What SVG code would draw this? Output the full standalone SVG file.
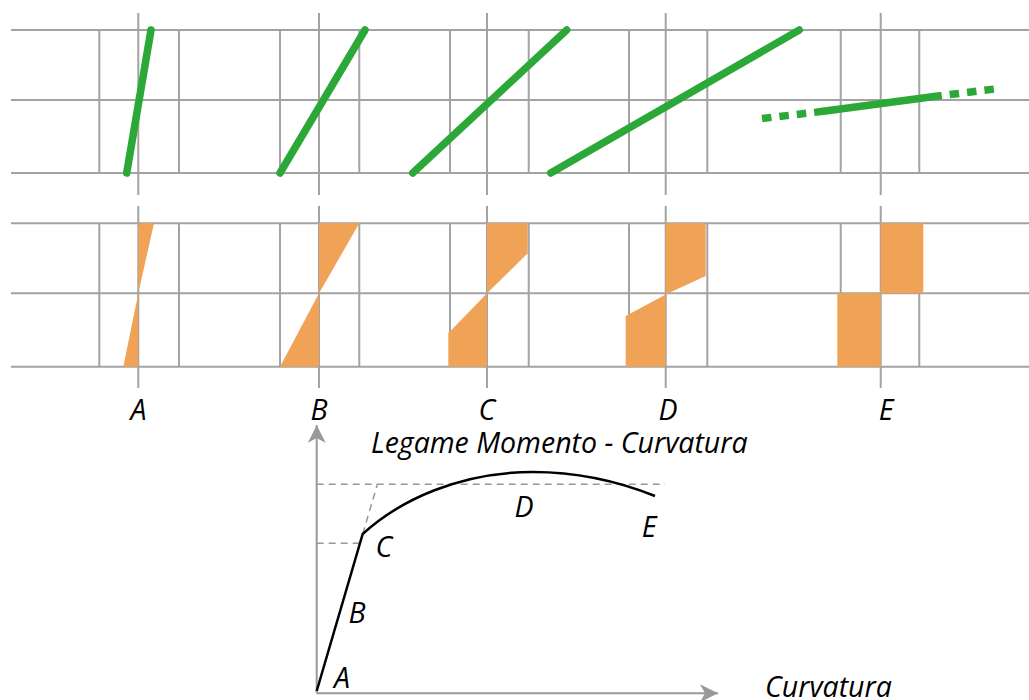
<svg xmlns="http://www.w3.org/2000/svg" width="1029" height="700" viewBox="0 0 1029 700">
<style>
.g{stroke:#a3a3a3;stroke-width:2;fill:none}
.gr{stroke:#2ca838;stroke-width:7.5;stroke-linecap:round;fill:none}
.grd{stroke:#2ca838;stroke-width:7.5;fill:none;stroke-dasharray:9.5 8}
.o{fill:#f0a357}
.t{font-family:"Open Sans","Noto Sans",sans-serif;font-style:italic;font-size:28.5px;fill:#000}
.ax{stroke:#999;stroke-width:2;fill:none}
.ds{stroke:#999;stroke-width:1.5;fill:none;stroke-dasharray:7 5}
</style>
<defs>
<marker id="ah" markerWidth="20" markerHeight="20" refX="18" refY="9" orient="auto" markerUnits="userSpaceOnUse">
<path d="M0,0 L18,9 L0,18 L5,9 Z" fill="#999"/>
</marker>
</defs>
<g id="grid-top">
<line class="g" x1="11" y1="30" x2="1029" y2="30"/>
<line class="g" x1="11" y1="100" x2="1029" y2="100"/>
<line class="g" x1="11" y1="173" x2="1029" y2="173"/>
<line class="g" x1="99.3" y1="30" x2="99.3" y2="173"/>
<line class="g" x1="179" y1="30" x2="179" y2="173"/>
<line class="g" x1="280" y1="30" x2="280" y2="173"/>
<line class="g" x1="359.3" y1="30" x2="359.3" y2="173"/>
<line class="g" x1="450" y1="30" x2="450" y2="173"/>
<line class="g" x1="528.7" y1="30" x2="528.7" y2="173"/>
<line class="g" x1="629" y1="30" x2="629" y2="173"/>
<line class="g" x1="707.3" y1="30" x2="707.3" y2="173"/>
<line class="g" x1="840.7" y1="30" x2="840.7" y2="173"/>
<line class="g" x1="919.3" y1="30" x2="919.3" y2="173"/>
<line class="g" x1="138.3" y1="13" x2="138.3" y2="195"/>
<line class="g" x1="319" y1="13" x2="319" y2="195"/>
<line class="g" x1="487" y1="13" x2="487" y2="195"/>
<line class="g" x1="665.7" y1="13" x2="665.7" y2="195"/>
<line class="g" x1="880.7" y1="13" x2="880.7" y2="195"/>
</g>
<g id="grid-bottom">
<line class="g" x1="11" y1="223.3" x2="1029" y2="223.3"/>
<line class="g" x1="11" y1="293.3" x2="1029" y2="293.3"/>
<line class="g" x1="11" y1="366.7" x2="1029" y2="366.7"/>
<line class="g" x1="99.3" y1="223.3" x2="99.3" y2="366.7"/>
<line class="g" x1="179" y1="223.3" x2="179" y2="366.7"/>
<line class="g" x1="280" y1="223.3" x2="280" y2="366.7"/>
<line class="g" x1="359.3" y1="223.3" x2="359.3" y2="366.7"/>
<line class="g" x1="450" y1="223.3" x2="450" y2="366.7"/>
<line class="g" x1="528.7" y1="223.3" x2="528.7" y2="366.7"/>
<line class="g" x1="629" y1="223.3" x2="629" y2="366.7"/>
<line class="g" x1="707.3" y1="223.3" x2="707.3" y2="366.7"/>
<line class="g" x1="840.7" y1="223.3" x2="840.7" y2="366.7"/>
<line class="g" x1="919.3" y1="223.3" x2="919.3" y2="366.7"/>
<line class="g" x1="138.3" y1="206" x2="138.3" y2="388"/>
<line class="g" x1="319" y1="206" x2="319" y2="388"/>
<line class="g" x1="487" y1="206" x2="487" y2="388"/>
<line class="g" x1="665.7" y1="206" x2="665.7" y2="388"/>
<line class="g" x1="880.7" y1="206" x2="880.7" y2="388"/>
</g>
<g id="strain-A"><line class="gr" x1="126.7" y1="173" x2="151" y2="30"/></g>
<g id="strain-B"><line class="gr" x1="280" y1="173" x2="365" y2="30"/></g>
<g id="strain-C"><line class="gr" x1="412.7" y1="173" x2="566.7" y2="30"/></g>
<g id="strain-D"><line class="gr" x1="550.7" y1="173" x2="799.3" y2="30"/></g>
<g id="strain-E">
<line class="grd" x1="762" y1="118.5" x2="823.3" y2="111.3"/>
<line class="gr" x1="823.3" y1="111.3" x2="932.3" y2="96.7" stroke-linecap="butt"/>
<line class="grd" x1="932.3" y1="96.7" x2="995" y2="89"/>
</g>
<g id="stress-A">
<polygon class="o" points="138.3,223.3 154,223.3 138.3,293.3"/>
<polygon class="o" points="138.3,293.3 123.3,366.7 138.3,366.7"/>
</g>
<g id="stress-B">
<polygon class="o" points="319,223.3 359.3,223.3 319,293.3"/>
<polygon class="o" points="319,293.3 280,366.7 319,366.7"/>
</g>
<g id="stress-C">
<polygon class="o" points="487,223.3 527.7,223.3 527.7,253.3 487,293.3"/>
<polygon class="o" points="448.3,333.3 487,293.3 487,366.7 448.3,366.7"/>
</g>
<g id="stress-D">
<polygon class="o" points="665.7,223.3 705.7,223.3 705.7,276 665.7,294.5"/>
<polygon class="o" points="625.7,316 665.7,294.5 665.7,366.7 625.7,366.7"/>
</g>
<g id="stress-E">
<rect class="o" x="880.7" y="223.3" width="42.6" height="70"/>
<rect class="o" x="837.3" y="293.3" width="43.4" height="73.4"/>
</g>
<g id="labels-top">
<text class="t" x="138.5" y="420" text-anchor="middle">A</text>
<text class="t" x="319" y="420" text-anchor="middle">B</text>
<text class="t" x="487" y="420" text-anchor="middle">C</text>
<text class="t" x="668" y="420" text-anchor="middle">D</text>
<text class="t" x="886" y="420" text-anchor="middle">E</text>
</g>
<g id="connectors">
<line class="ax" x1="316.7" y1="693.3" x2="316.7" y2="425" marker-end="url(#ah)"/>
<line class="ax" x1="316.7" y1="693.3" x2="718" y2="693.3" marker-end="url(#ah)"/>
<line class="ds" x1="316.7" y1="484.3" x2="665" y2="484.3"/>
<line class="ds" x1="316.7" y1="543.3" x2="361" y2="543.3"/>
<line class="ds" x1="362.7" y1="534" x2="377.4" y2="484.3"/>
<path d="M316.7,691 L362.7,534 C400,500 460,472 533,472 C580,472 620,482 655,496" stroke="#000" stroke-width="2.5" fill="none"/>
</g>
<g id="chart-labels">
<text class="t" x="371" y="453">Legame Momento - Curvatura</text>
<text class="t" x="342" y="688" text-anchor="middle">A</text>
<text class="t" x="357" y="623" text-anchor="middle">B</text>
<text class="t" x="384" y="557" text-anchor="middle">C</text>
<text class="t" x="524" y="517" text-anchor="middle">D</text>
<text class="t" x="649" y="537" text-anchor="middle">E</text>
<text class="t" x="765" y="697">Curvatura</text>
</g>
</svg>
